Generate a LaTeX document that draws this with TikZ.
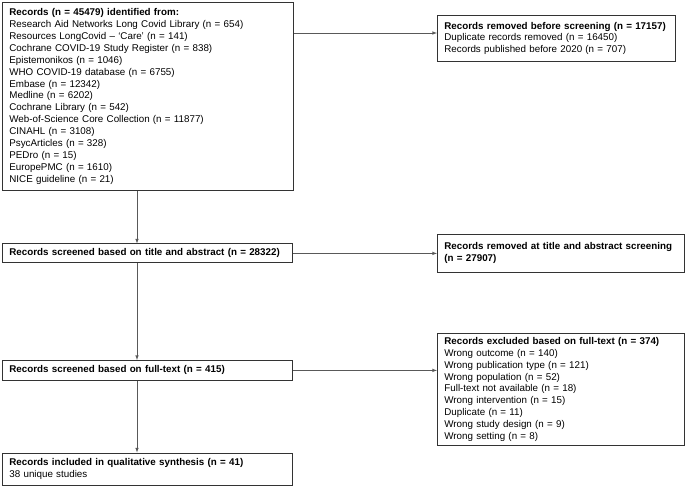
\documentclass[tikz,border=0pt]{standalone}
\usepackage{fontspec}
\setmainfont{Liberation Sans}

\tikzset{
  rec/.style={draw=black!80, line width=0.8pt, anchor=north west, align=left,
    inner xsep=7pt, inner ysep=0pt, text width=#1,
    font=\fontsize{9.8}{11.9}\selectfont},
  flow/.style={->, draw=black!65, line width=0.6pt}
}

\begin{document}
\begin{tikzpicture}[>=latex, x=1pt, y=-1pt]
            \useasboundingbox (0,0) rectangle (685,486);
            % left column
            \node[rec=277pt, minimum height=188pt] (src) at (2,2) {\textbf{Records (n = 45479) identified from:}\\
              Research Aid Networks Long Covid Library (n = 654)\\
              Resources LongCovid – ‘Care’ (n = 141)\\
              Cochrane COVID-19 Study Register (n = 838)\\
              Epistemonikos (n = 1046)\\
              WHO COVID-19 database (n = 6755)\\
              Embase (n = 12342)\\
              Medline (n = 6202)\\
              Cochrane Library (n = 542)\\
              Web-of-Science Core Collection (n = 11877)\\
              CINAHL (n = 3108)\\
              PsycArticles (n = 328)\\
              PEDro (n = 15)\\
              EuropePMC (n = 1610)\\
              NICE guideline (n = 21)};
            \node[rec=276pt, minimum height=19pt] (abs) at (2,243.5) {\textbf{Records screened based on title and abstract (n = 28322)}};
            \node[rec=276pt, minimum height=20pt] (full) at (2,360) {\textbf{Records screened based on full-text (n = 415)}};
            \node[rec=276pt, minimum height=32pt] (incl) at (2,452.5) {\textbf{Records included in qualitative synthesis (n = 41)}\\38 unique studies};
            % right column
            \node[rec=224pt, minimum height=46pt] (pre) at (437,15) {\textbf{Records removed before screening (n = 17157)}\\
              Duplicate records removed (n = 16450)\\
              Records published before 2020 (n = 707)};
            \node[rec=233pt, minimum height=38pt] (rabs) at (437,234) {\textbf{Records removed at title and abstract screening}\\\textbf{(n = 27907)}};
            \node[rec=233pt, minimum height=112pt] (rfull) at (437,333) {\textbf{Records excluded based on full-text (n = 374)}\\
              Wrong outcome (n = 140)\\
              Wrong publication type (n = 121)\\
              Wrong population (n = 52)\\
              Full-text not available (n = 18)\\
              Wrong intervention (n = 15)\\
              Duplicate (n = 11)\\
              Wrong study design (n = 9)\\
              Wrong setting (n = 8)};
            % connectors
            \coordinate (spine) at (137,0);
            \coordinate (prein) at (437,33);
            \draw[flow] (src.south -| spine)--(abs.north -| spine);
            \draw[flow] (abs.south -| spine)--(full.north -| spine);
            \draw[flow] (full.south -| spine)--(incl.north -| spine);
            \draw[flow] (src.east |- prein)--(pre.west |- prein);
            \draw[flow] (abs.east)--(abs.east -| rabs.west);
            \draw[flow] (full.east)--(full.east -| rfull.west);
        \end{tikzpicture}
\end{document}
